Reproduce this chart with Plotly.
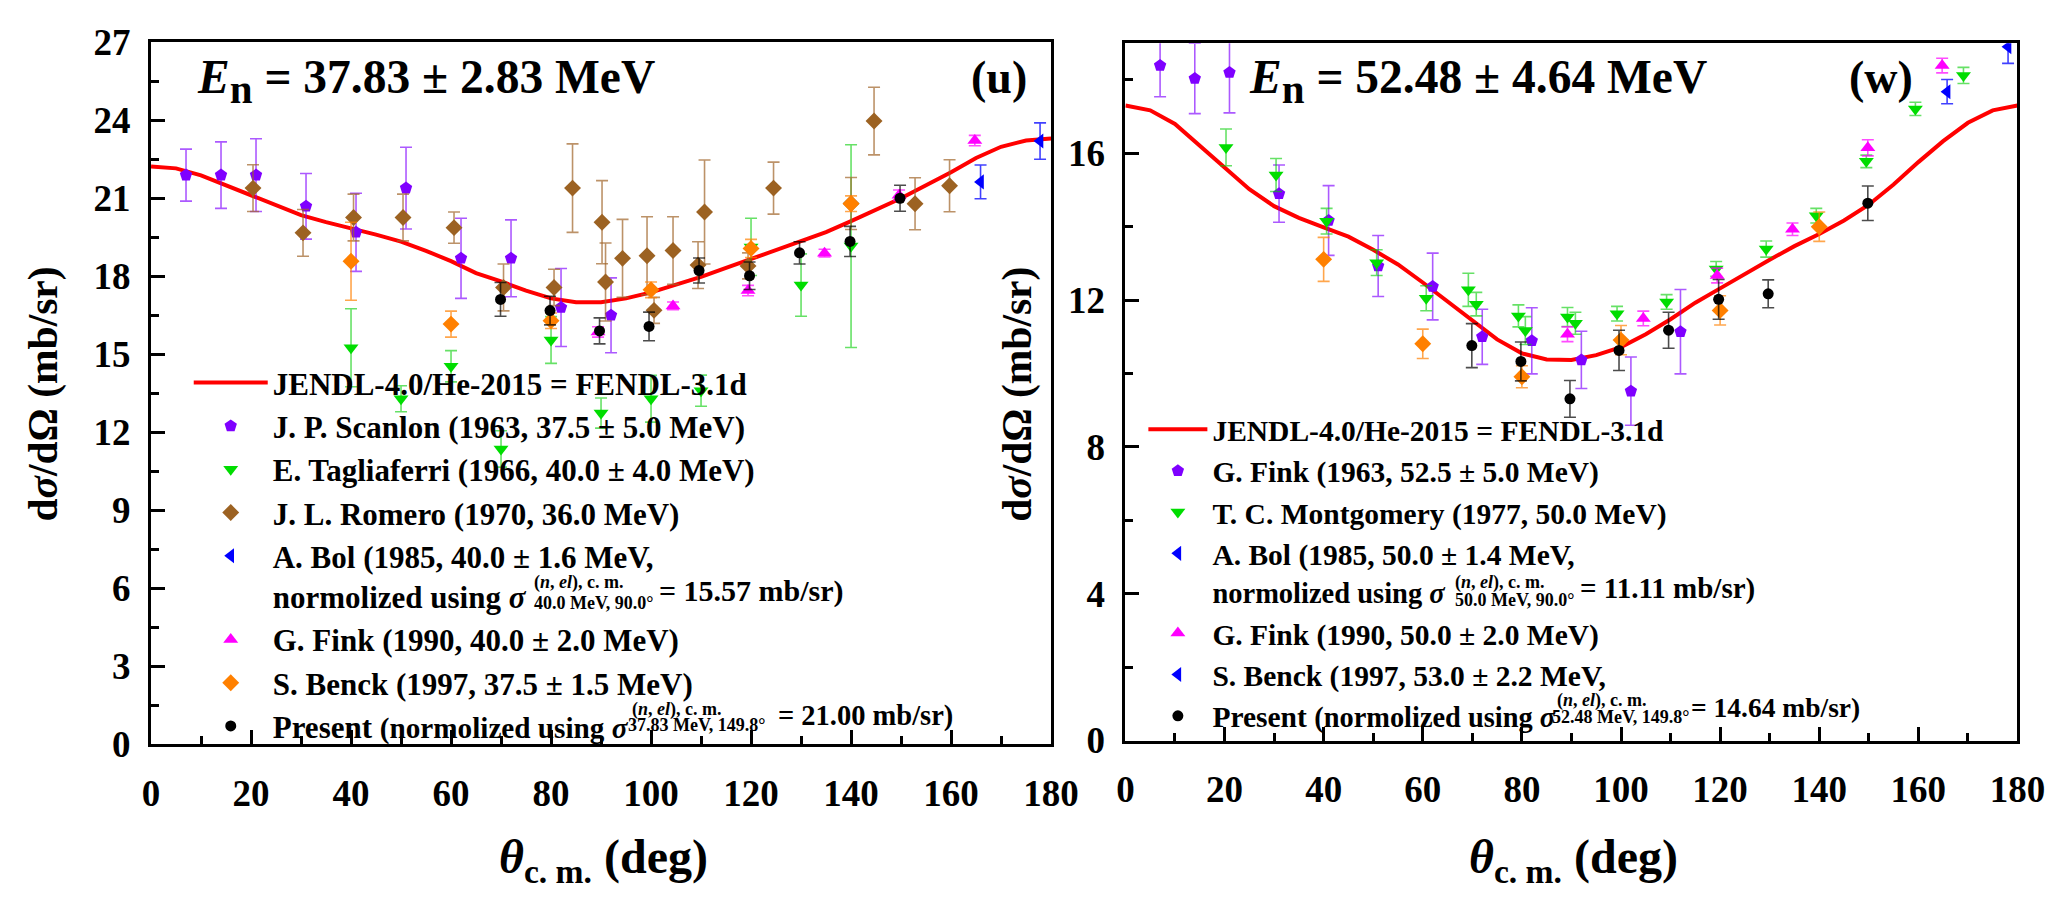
import plotly.graph_objects as go

W, H = 2072, 898
FONT = "Liberation Serif, Times New Roman, serif"

# ---------------- left panel: En = 37.83 MeV ----------------
jendl_L_theta = [0, 5, 10, 15, 20, 25, 30, 35, 40, 45, 50, 55, 60, 65, 70, 75, 80, 85, 90,
                 95, 100, 105, 110, 115, 120, 125, 130, 135, 140, 145, 150, 155, 160, 165, 170, 175, 180]
jendl_L = [22.22, 22.15, 21.88, 21.5, 21.1, 20.72, 20.35, 20.08, 19.85, 19.6, 19.33, 18.98, 18.58,
           18.12, 17.8, 17.45, 17.15, 17.0, 17.0, 17.15, 17.38, 17.66, 17.98, 18.32, 18.66, 19.0,
           19.33, 19.7, 20.12, 20.55, 21.0, 21.5, 22.0, 22.55, 22.98, 23.22, 23.3]

scanlon_theta = [7, 14, 21, 31, 41, 51, 62, 72, 82, 92]
scanlon = [21.89, 21.89, 21.89, 20.69, 19.69, 21.39, 18.69, 18.69, 16.8, 16.5]
scanlon_err = [1.0, 1.28, 1.4, 1.26, 1.5, 1.57, 1.54, 1.48, 1.5, 1.44]

tagl_theta = [40, 50, 60, 70, 80, 90, 100, 110, 120, 130, 140]
tagl = [15.25, 13.29, 14.54, 11.36, 15.55, 12.74, 13.29, 13.6, 19.13, 17.66, 19.16]
tagl_err = [1.5, 0.5, 0.6, 0.7, 0.9, 0.58, 0.9, 0.6, 1.1, 1.2, 3.9]

romero_theta = [20.4, 30.4, 40.5, 50.4, 60.6, 70.5, 80.6, 84.3, 90.2, 90.9, 94.3, 99.2, 100.6,
                104.4, 109.4, 110.7, 119.4, 124.5, 140.0, 144.6, 152.8, 159.7]
romero = [21.39, 19.67, 20.26, 20.26, 19.87, 17.57, 17.57, 21.39, 20.08, 17.78, 18.69, 18.79, 16.69,
          18.99, 18.43, 20.47, 18.4, 21.39, 20.8, 23.97, 20.79, 21.48]
romero_err = [0.9, 0.9, 0.9, 0.9, 0.6, 0.9, 0.7, 1.7, 1.6, 1.5, 1.5, 1.5, 0.5, 1.3, 0.9, 2.0, 0.5,
              1.0, 1.0, 1.3, 1.0, 1.0]

bol_L_theta = [165.9, 177.8]
bol_L = [21.63, 23.2]
bol_L_err = [0.65, 0.7]

fink_L_theta = [89.4, 104.4, 119.4, 134.7, 149.6, 164.75]
fink_L = [15.86, 16.86, 17.45, 18.89, 21.12, 23.22]
fink_L_err = [0.2, 0.15, 0.2, 0.15, 0.2, 0.2]

benck_L_theta = [40, 60, 80, 100, 120, 140]
benck_L = [18.58, 16.16, 16.29, 17.48, 19.07, 20.79]
benck_L_err = [1.5, 0.5, 0.3, 0.3, 0.35, 0.3]

present_L_theta = [69.9, 79.8, 89.7, 99.6, 109.6, 119.7, 129.7, 139.8, 149.8]
present_L = [17.11, 16.68, 15.9, 16.07, 18.22, 18.02, 18.9, 19.34, 21.0]
present_L_err = [0.65, 0.55, 0.5, 0.55, 0.48, 0.53, 0.43, 0.58, 0.5]

# ---------------- right panel: En = 52.48 MeV ----------------
jendl_R_theta = jendl_L_theta
jendl_R = [17.3, 17.17, 16.8, 16.2, 15.63, 15.02, 14.56, 14.24, 13.98, 13.73, 13.37, 12.97, 12.48,
           11.97, 11.47, 10.93, 10.55, 10.38, 10.37, 10.5, 10.72, 11.07, 11.48, 11.93, 12.32, 12.72,
           13.1, 13.47, 13.8, 14.17, 14.6, 15.15, 15.76, 16.33, 16.83, 17.17, 17.3]

fink63_theta = [7, 14, 21, 31, 41, 51, 62, 72, 82, 92, 102, 112]
fink63 = [18.39, 18.04, 18.2, 14.9, 14.17, 12.93, 12.37, 11.0, 10.89, 10.37, 9.52, 11.14]
fink63_err = [0.85, 0.96, 1.1, 0.78, 0.95, 0.83, 0.91, 0.75, 0.9, 0.78, 0.93, 1.15]

mont_theta = [20.3, 30.4, 40.6, 50.7, 60.7, 69.2, 70.8, 79.3, 80.7, 89.2, 90.8, 99.2, 109.2,
              119.2, 129.3, 139.4, 149.5, 159.4, 169.1]
mont = [16.16, 15.41, 14.15, 13.02, 12.05, 12.28, 11.89, 11.57, 11.17, 11.54, 11.37, 11.63, 11.95,
        12.85, 13.39, 14.3, 15.78, 17.21, 18.12]
mont_err = [0.5, 0.45, 0.35, 0.35, 0.34, 0.45, 0.32, 0.3, 0.38, 0.26, 0.3, 0.2, 0.2, 0.2, 0.22,
            0.2, 0.17, 0.18, 0.22]

bol_R_theta = [165.8, 178.1]
bol_R = [17.68, 18.9]
bol_R_err = [0.33, 0.45]

fink90_R_theta = [89.2, 104.5, 119.4, 134.6, 149.8, 164.8]
fink90_R = [11.07, 11.5, 12.67, 13.93, 16.15, 18.39]
fink90_R_err = [0.2, 0.2, 0.2, 0.17, 0.22, 0.2]

benck_R_theta = [40, 60, 80, 100, 120, 140]
benck_R = [13.11, 10.81, 9.91, 10.91, 11.72, 14.0]
benck_R_err = [0.6, 0.4, 0.3, 0.4, 0.4, 0.4]

present_R_theta = [69.9, 79.8, 89.7, 99.6, 109.6, 119.7, 129.7, 149.8]
present_R = [10.76, 10.33, 9.31, 10.63, 11.18, 12.02, 12.17, 14.64]
present_R_err = [0.6, 0.53, 0.5, 0.55, 0.49, 0.54, 0.38, 0.47]

# ---------------- styles ----------------
PURPLE, PURPLE_E = "#7F00FF", "rgba(128,0,255,0.65)"
GREEN, GREEN_E = "#00DD00", "rgba(0,205,0,0.6)"
BROWN, BROWN_E = "#9C6222", "rgba(160,100,40,0.7)"
BLUE, BLUE_E = "#0000FF", "rgba(0,0,255,0.75)"
MAGENTA, MAGENTA_E = "#FF00FF", "rgba(255,0,255,0.7)"
ORANGE, ORANGE_E = "#FF8000", "rgba(255,128,0,0.7)"
BLACK, BLACK_E = "#000000", "rgba(0,0,0,0.7)"

fig = go.Figure()


def add_line(theta, val, name, xa, ya, leg):
    fig.add_trace(go.Scatter(x=theta, y=val, mode="lines", name=name,
                             line=dict(color="#FF0000", width=4),
                             xaxis=xa, yaxis=ya, legend=leg))


def add_pts(theta, val, err, name, symbol, color, ecolor, xa, ya, leg, size=13, showlegend=True):
    fig.add_trace(go.Scatter(x=theta, y=val, mode="markers", name=name,
                             marker=dict(symbol=symbol, color=color, size=size),
                             error_y=dict(type="data", array=err, visible=True, color=ecolor,
                                          thickness=1.6, width=6),
                             xaxis=xa, yaxis=ya, legend=leg, showlegend=showlegend))


# left
add_line(jendl_L_theta, jendl_L, "JENDL-4.0/He-2015 = FENDL-3.1d", "x", "y", "legend")
add_pts(scanlon_theta, scanlon, scanlon_err, "J. P. Scanlon (1963, 37.5 ± 5.0 MeV)",
        "pentagon", PURPLE, PURPLE_E, "x", "y", "legend")
add_pts(tagl_theta, tagl, tagl_err, "E. Tagliaferri (1966, 40.0 ± 4.0 MeV)",
        "triangle-down", GREEN, GREEN_E, "x", "y", "legend")
add_pts(romero_theta, romero, romero_err, "J. L. Romero (1970, 36.0 MeV)",
        "diamond", BROWN, BROWN_E, "x", "y", "legend")
add_pts(bol_L_theta, bol_L, bol_L_err,
        "A. Bol (1985, 40.0 ± 1.6 MeV,<br>normolized using <i>σ</i>",
        "triangle-left", BLUE, BLUE_E, "x", "y", "legend")
add_pts(fink_L_theta, fink_L, fink_L_err, "G. Fink (1990, 40.0 ± 2.0 MeV)",
        "triangle-up", MAGENTA, MAGENTA_E, "x", "y", "legend")
add_pts(benck_L_theta, benck_L, benck_L_err, "S. Benck (1997, 37.5 ± 1.5 MeV)",
        "diamond", ORANGE, ORANGE_E, "x", "y", "legend")
add_pts(present_L_theta, present_L, present_L_err,
        "Present <span style='font-size:29.2px'>(normolized using <i>σ</i></span>",
        "circle", BLACK, BLACK_E, "x", "y", "legend", size=11)

# right
add_line(jendl_R_theta, jendl_R, "JENDL-4.0/He-2015 = FENDL-3.1d", "x2", "y2", "legend2")
add_pts(fink63_theta, fink63, fink63_err, "G. Fink (1963, 52.5 ± 5.0 MeV)",
        "pentagon", PURPLE, PURPLE_E, "x2", "y2", "legend2")
add_pts(mont_theta, mont, mont_err, "T. C. Montgomery (1977, 50.0 MeV)",
        "triangle-down", GREEN, GREEN_E, "x2", "y2", "legend2")
add_pts(bol_R_theta, bol_R, bol_R_err,
        "A. Bol (1985, 50.0 ± 1.4 MeV,<br><span style='font-size:28.5px'>normolized using <i>σ</i></span>",
        "triangle-left", BLUE, BLUE_E, "x2", "y2", "legend2")
add_pts(fink90_R_theta, fink90_R, fink90_R_err, "G. Fink (1990, 50.0 ± 2.0 MeV)",
        "triangle-up", MAGENTA, MAGENTA_E, "x2", "y2", "legend2")
add_pts(benck_R_theta, benck_R, benck_R_err, "S. Benck (1997, 53.0 ± 2.2 MeV)",
        "diamond", ORANGE, ORANGE_E, "x2", "y2", "legend2", showlegend=False)
# legend entry as printed in the original (blue left-triangle symbol)
fig.add_trace(go.Scatter(x=[None], y=[None], mode="markers", name="S. Benck (1997, 53.0 ± 2.2 MeV,",
                         marker=dict(symbol="triangle-left", color=BLUE, size=13),
                         xaxis="x2", yaxis="y2", legend="legend2"))
add_pts(present_R_theta, present_R, present_R_err,
        "Present <span style='font-size:28.4px'>(normolized using <i>σ</i></span>",
        "circle", BLACK, BLACK_E, "x2", "y2", "legend2", size=11)


def px_x(p):
    return p / W


def px_y(p):
    return 1 - p / H


axis_common = dict(
    showline=True, linewidth=3, linecolor="black", mirror=True,
    ticks="inside", ticklen=14, tickwidth=3, tickcolor="black",
    tickfont=dict(family=FONT, size=37, color="black", weight="bold"),
    showgrid=False, zeroline=False,
)
minor_common = dict(ticks="inside", ticklen=8, tickwidth=3, tickcolor="black")

fig.update_layout(
    width=W, height=H,
    margin=dict(l=0, r=0, t=0, b=0),
    paper_bgcolor="white", plot_bgcolor="white",
    xaxis=dict(domain=[px_x(144.6), px_x(1061)], range=[0, 180], dtick=20, tick0=0,
               minor=dict(dtick=10, **minor_common), anchor="y", ticklabelstandoff=14,
               **axis_common),
    yaxis=dict(domain=[px_y(759), px_y(23.3)], range=[0, 27], dtick=3, tick0=0,
               minor=dict(dtick=1.5, **minor_common), anchor="x", ticklabelstandoff=10,
               **axis_common),
    xaxis2=dict(domain=[px_x(1136.7), px_x(2045)], range=[0, 180], dtick=20, tick0=0,
                minor=dict(dtick=10, **minor_common), anchor="y2", ticklabelstandoff=14,
                **axis_common),
    yaxis2=dict(domain=[px_y(755), px_y(24.3)], range=[0, 19], dtick=4, tick0=0,
                minor=dict(dtick=2, **minor_common), anchor="x2", ticklabelstandoff=10,
                **axis_common),
    legend=dict(x=px_x(183), y=px_y(352), xanchor="left", yanchor="top",
                bgcolor="rgba(0,0,0,0)", borderwidth=0, itemwidth=74, valign="top",
                tracegroupgap=0,
                font=dict(family=FONT, size=31, color="black", weight="bold")),
    legend2=dict(x=px_x(1155), y=px_y(402), xanchor="left", yanchor="top",
                 bgcolor="rgba(0,0,0,0)", borderwidth=0, itemwidth=59, valign="top",
                 tracegroupgap=0,
                 font=dict(family=FONT, size=29.5, color="black", weight="bold")),
    showlegend=True,
)


def F(size):
    return dict(family=FONT, size=size, color="black", weight="bold")


ann = []
ann.append(dict(text="<i>E</i><sub><span style='font-size:41px'>n</span></sub> = 37.83 ± 2.83 MeV",
                x=px_x(189), y=px_y(64), xanchor="left", yanchor="middle", font=F(47.5)))
ann.append(dict(text="(u)", x=px_x(1008), y=px_y(60), xanchor="center", yanchor="middle", font=F(46)))
ann.append(dict(text="<i>E</i><sub><span style='font-size:41px'>n</span></sub> = 52.48 ± 4.64 MeV",
                x=px_x(1260), y=px_y(64), xanchor="left", yanchor="middle", font=F(47.5)))
ann.append(dict(text="(w)", x=px_x(1906), y=px_y(60), xanchor="center", yanchor="middle", font=F(46)))
for xc in (35, 1026):
    ann.append(dict(text="d<i>σ</i>/dΩ (mb/sr)", x=px_x(xc), y=px_y(392), textangle=-90,
                    xanchor="center", yanchor="middle", font=F(41.5)))
for xc in (605, 1593):
    ann.append(dict(text="<i>θ</i><sub>c. m.</sub> (deg)", x=px_x(xc), y=px_y(880),
                    xanchor="center", yanchor="middle", font=F(48)))

# stacked super/subscripts and the rest of the normalisation lines
SUP = "(<i>n</i>, <i>el</i>), c. m."
pieces = [
    # (x_left_px, y_center_px, text, size)
    (533, 589.6, SUP, 18), (533, 610.9, "40.0 MeV, 90.0°", 18),
    (660, 598.5, "= 15.57 mb/sr)", 30),
    (632, 722.5, SUP, 18), (628, 739.2, "37.83 MeV, 149.8°", 18),
    (781, 728.9, "= 21.00 mb/sr)", 28.5),
    (1470, 589.3, SUP, 18), (1470, 607.6, "50.0 MeV, 90.0°", 18),
    (1597.7, 596.1, "= 11.11 mb/sr)", 29),
    (1574, 713.3, SUP, 18), (1569, 730, "52.48 MeV, 149.8°", 18),
    (1711, 720.7, "= 14.64 mb/sr)", 27.5),
]
for xl, yc, t, s in pieces:
    ann.append(dict(text=t, x=px_x(xl), y=px_y(yc), xanchor="left", yanchor="middle", font=F(s)))

for a in ann:
    a.update(xref="paper", yref="paper", showarrow=False)
fig.update_layout(annotations=ann)

fig.write_html("out.html")
